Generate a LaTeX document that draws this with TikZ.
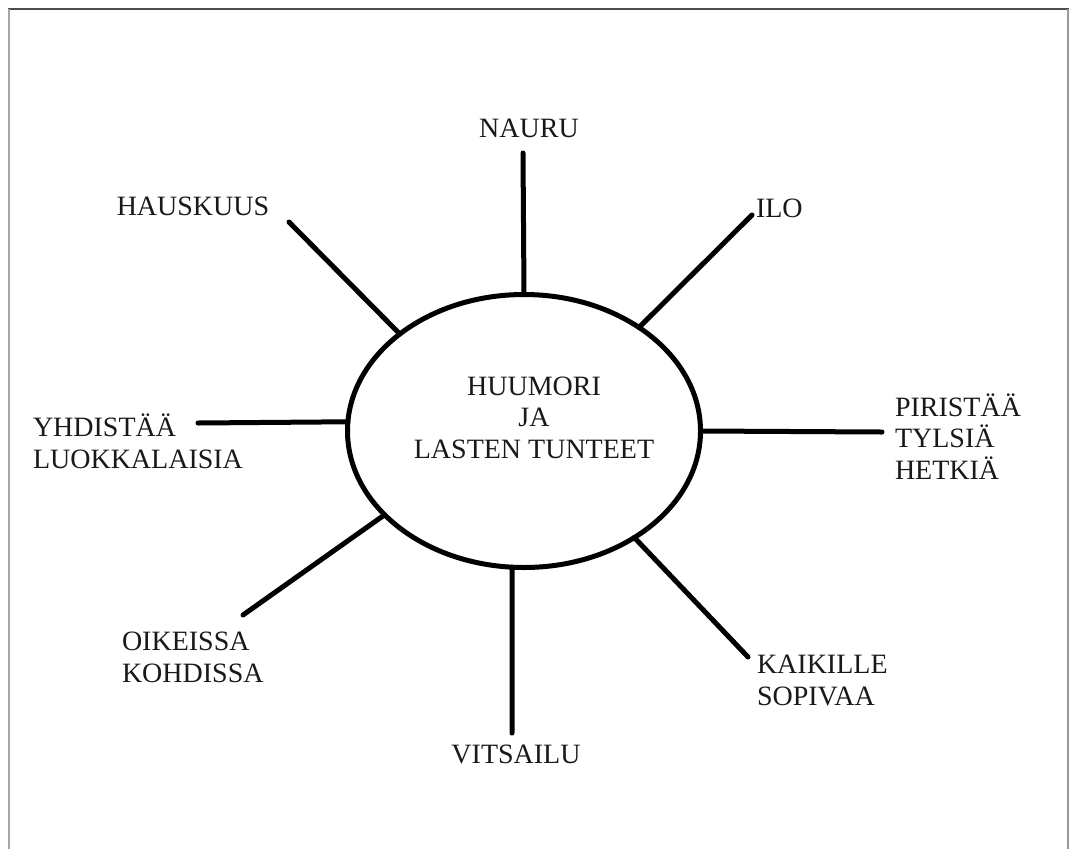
\documentclass[tikz,border=0pt]{standalone}
\usepackage{fontspec}
\setmainfont{Liberation Serif}
\usetikzlibrary{shapes.geometric}
\begin{document}
\begin{tikzpicture}[x=1pt,y=-1pt,
  lbl/.style={inner sep=0pt, outer sep=0pt, font=\fontsize{28}{31.5}\selectfont, text=black!90},
  spoke/.style={line width=5pt, line cap=round, draw=black},
  hub/.style={ellipse, draw=black, line width=5pt, minimum width=353pt, minimum height=273pt, inner sep=0pt, outer sep=0pt}]
\useasboundingbox (0,0) rectangle (1070,849);
% frame
\draw[draw=black!70, line width=1.5pt] (8,9) -- (1069,9);
\draw[draw=black!35, line width=2pt] (8.5,9) -- (8.5,849);
\draw[draw=black!40, line width=2pt] (1068,9) -- (1068,849);
% hub
\node[hub] (hub) at (524,431) {};
\node[lbl, align=center, anchor=base] (title) at (534,458) {HUUMORI\\JA\\LASTEN TUNTEET};
% labels
\node[lbl, anchor=base] (nauru) at (529,137) {NAURU};
\node[lbl, anchor=base] (hausk) at (193,215) {HAUSKUUS};
\node[lbl, anchor=base west] (ilo) at (756,217) {ILO};
\node[lbl, align=left, anchor=base west] (pir) at (895,479) {PIRISTÄÄ\\TYLSIÄ\\HETKIÄ};
\node[lbl, align=left, anchor=base west] (yhd) at (33,468) {YHDISTÄÄ\\LUOKKALAISIA};
\node[lbl, align=left, anchor=base west] (oik) at (122,682) {OIKEISSA\\KOHDISSA};
\node[lbl, align=left, anchor=base west] (kaik) at (757,705) {KAIKILLE\\SOPIVAA};
\node[lbl, anchor=base] (vits) at (516,763) {VITSAILU};
% spoke ends
\coordinate (cN) at (523,153);
\coordinate (cH) at (289,222);
\coordinate (cI) at (752,215);
\coordinate (cP) at (882,432);
\coordinate (cK) at (748,657);
\coordinate (cV) at (512,733);
\coordinate (cO) at (243,615);
\coordinate (cY) at (198,423);
\draw[spoke] (cN) -- (hub.90);
\draw[spoke] (cH) -- (hub.142);
\draw[spoke] (cI) -- (hub.42);
\draw[spoke] (cP) -- (hub.0);
\draw[spoke] (cK) -- (hub.-44.5);
\draw[spoke] (cV) -- (hub.-95);
\draw[spoke] (cO) -- (hub.211);
\draw[spoke] (cY) -- (hub.177);
\end{tikzpicture}
\end{document}
